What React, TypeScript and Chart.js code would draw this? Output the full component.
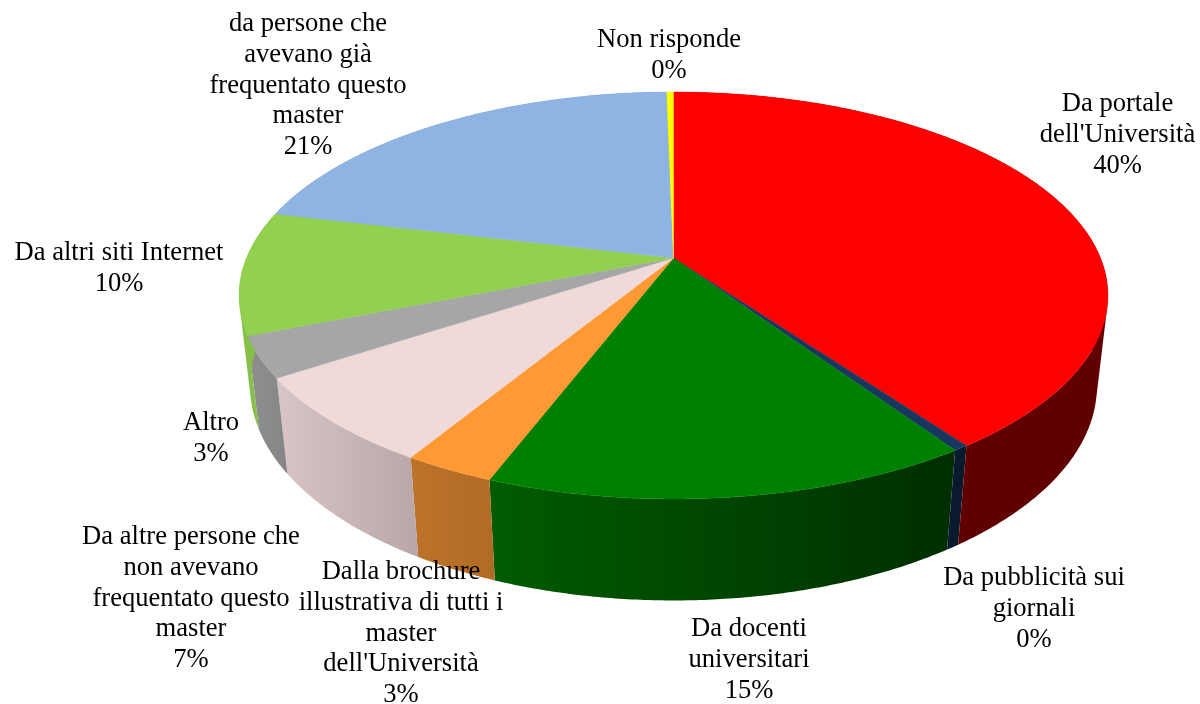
import React, { useEffect, useRef } from "react";
import { Chart, registerables } from "chart.js";

Chart.register(...registerables);

const categories: string[][] = [
  ["Da portale", "dell'Università"],
  ["Da pubblicità sui", "giornali"],
  ["Da docenti", "universitari"],
  ["Dalla brochure", "illustrativa di tutti i", "master", "dell'Università"],
  ["Da altre persone che", "non avevano", "frequentato questo", "master"],
  ["Altro"],
  ["Da altri siti Internet"],
  ["da persone che", "avevano già", "frequentato questo", "master"],
  ["Non risponde"],
];
const values = [40.08, 0.48, 15.25, 2.87, 7.05, 3.25, 9.78, 20.94, 0.3];
const percentLabels = ["40%", "0%", "15%", "3%", "7%", "3%", "10%", "21%", "0%"];
const faceColors = ["#ff0000", "#17375e", "#008000", "#ff9933", "#efd9d9", "#a6a6a6", "#92d050", "#8db4e2", "#ffff00"];
const wallColors = [
  ["#600000", "#600000"],
  ["#0a1a2e", "#0a1a2e"],
  ["#005c00", "#002e00"],
  ["#bd7329", "#b06b26"],
  ["#d9c5c5", "#b9a6a6"],
  ["#8f8f8f", "#858585"],
  ["#86c049", "#86c049"],
  ["#6f8fb4", "#6f8fb4"],
  ["#b0b000", "#b0b000"],
];
// centre x and first line y of each label block
const labelAnchors = [
  [1117.5, 104], [1034, 578], [749, 629], [401, 572], [191, 537], [211, 423], [119, 253], [308, 24], [669, 40],
];
const lineHeight = 30.8;
const fontSize = 26.6;

// perspective model of the disc
const cam = { xc: 673.5, yc: 258, a: 196.6, b: 0.184, c: 427, e: 91.4, f: 0.025 };
const project = (u: number, v: number, h: number): [number, number] => {
  const w = 1 + cam.b * v + cam.f * h;
  return [cam.xc + (cam.c * u) / w, cam.yc + (-cam.a * v + cam.e * h) / w];
};
const rim = (theta: number, h: number) => project(Math.cos(theta), -Math.sin(theta), h);

const pie3d = {
  id: "pie3d",
  beforeDatasetsDraw(chart: any) {
    const ctx: CanvasRenderingContext2D = chart.ctx;
    const arcs = chart.getDatasetMeta(0).data;
    const order = arcs
      .map((_: any, i: number) => i)
      .sort((p: number, q: number) => {
        const mid = (k: number) => Math.sin((arcs[k].startAngle + arcs[k].endAngle) / 2);
        return mid(q) - mid(p);
      });
    ctx.save();
    for (const i of order) {
      const { startAngle, endAngle } = arcs[i];
      const steps = Math.max(2, Math.ceil((endAngle - startAngle) * 120));
      let minX = Infinity;
      let maxX = -Infinity;
      ctx.beginPath();
      for (let s = 0; s < steps; s++) {
        const t0 = startAngle + ((endAngle - startAngle) * s) / steps;
        const t1 = startAngle + ((endAngle - startAngle) * (s + 1)) / steps;
        const q = [rim(t0, 0), rim(t1, 0), rim(t1, 1), rim(t0, 1)];
        let area = 0;
        q.forEach((p, k) => {
          const n = q[(k + 1) % 4];
          area += p[0] * n[1] - n[0] * p[1];
          minX = Math.min(minX, p[0]);
          maxX = Math.max(maxX, p[0]);
        });
        const pts = area > 0 ? q : [...q].reverse();
        ctx.moveTo(pts[0][0], pts[0][1]);
        for (let k = 1; k < 4; k++) ctx.lineTo(pts[k][0], pts[k][1]);
        ctx.closePath();
      }
      const grad = ctx.createLinearGradient(minX, 0, maxX, 0);
      grad.addColorStop(0, wallColors[i][0]);
      grad.addColorStop(1, wallColors[i][1]);
      ctx.fillStyle = grad;
      ctx.fill();
    }
    arcs.forEach((arc: any, i: number) => {
      const { startAngle, endAngle } = arc;
      const steps = Math.max(2, Math.ceil((endAngle - startAngle) * 120));
      ctx.beginPath();
      ctx.moveTo(cam.xc, cam.yc);
      for (let s = 0; s <= steps; s++) {
        const p = rim(startAngle + ((endAngle - startAngle) * s) / steps, 0);
        ctx.lineTo(p[0], p[1]);
      }
      ctx.closePath();
      ctx.fillStyle = faceColors[i];
      ctx.fill();
      ctx.strokeStyle = faceColors[i];
      ctx.lineWidth = 0.4;
      ctx.stroke();
    });
    ctx.restore();
    return false;
  },
  afterDraw(chart: any) {
    const ctx: CanvasRenderingContext2D = chart.ctx;
    ctx.save();
    ctx.font = `${fontSize}px "Liberation Serif"`;
    ctx.fillStyle = "#000000";
    ctx.textAlign = "center";
    ctx.textBaseline = "middle";
    categories.forEach((lines, i) => {
      const [x, y] = labelAnchors[i];
      [...lines, percentLabels[i]].forEach((t, k) => ctx.fillText(t, x, y + k * lineHeight));
    });
    ctx.restore();
  },
};

export default function App() {
  const ref = useRef<HTMLCanvasElement>(null);
  useEffect(() => {
    const chart = new Chart(ref.current!, {
      type: "pie",
      data: {
        labels: categories.map((c) => c.join(" ")),
        datasets: [{ data: values, backgroundColor: faceColors, borderWidth: 0 }],
      },
      options: {
        responsive: false,
        animation: false,
        plugins: { legend: { display: false }, tooltip: { enabled: false } },
      },
      plugins: [pie3d],
    } as any);
    return () => chart.destroy();
  }, []);
  return (
    <div style={{ position: "absolute", left: 0, top: 0, width: 1200, height: 704, background: "#fff" }}>
      <canvas ref={ref} width={1200} height={704} style={{ display: "block" }} />
    </div>
  );
}
